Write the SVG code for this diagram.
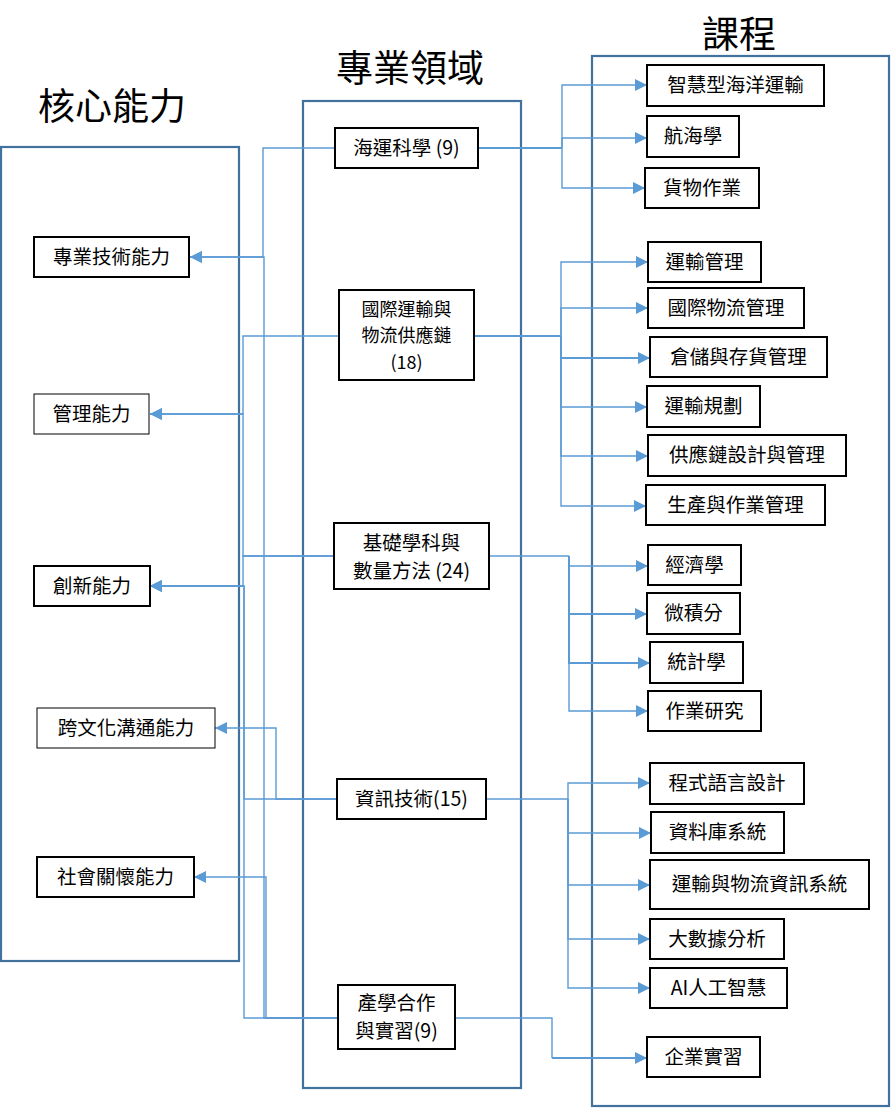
<svg xmlns="http://www.w3.org/2000/svg" width="892" height="1108" viewBox="0 0 892 1108">
<style>
.bg{fill:#ffffff}
.cont{fill:none;stroke:#41719c;stroke-width:2.2}
.title{font-family:"Noto Sans CJK TC","Noto Sans CJK SC",sans-serif;font-size:37px;fill:#000;text-anchor:middle}
.box{fill:#ffffff;stroke:#000;stroke-width:2}
.thin{stroke-width:1}
.t{font-family:"Noto Sans CJK TC","Noto Sans CJK SC",sans-serif;font-size:19.5px;fill:#000;text-anchor:middle}
.s{font-size:18px}
.c{fill:none;stroke:#5b9bd5;stroke-width:1.4}
.cb{fill:none;stroke:#5b9bd5;stroke-width:2}
</style>
<defs>
<marker id="ah" markerUnits="userSpaceOnUse" markerWidth="13" markerHeight="13" refX="12" refY="6" orient="auto">
<path d="M0,0 L12,6 L0,12 z" fill="#5b9bd5"/>
</marker>
</defs>
<rect class="bg" x="0" y="0" width="892" height="1108"/>
<g id="containers">
<rect class="cont" x="1" y="147" width="238" height="814"/>
<rect class="cont" x="303" y="101" width="218" height="987"/>
<rect class="cont" x="592" y="56" width="297" height="1050"/>
<text class="title" x="112" y="120">核心能力</text>
<text class="title" x="410" y="82">專業領域</text>
<text class="title" x="739" y="48">課程</text>
</g>
<g id="connectors">
<path class="c" d="M334,148 H263 V257 H190" marker-end="url(#ah)"/>
<path class="c" d="M338,1018 H264 V257 H190" marker-end="url(#ah)"/>
<path class="c" d="M339,336 H243 V414 H150" marker-end="url(#ah)"/>
<path class="c" d="M334,556 H243 V414 H150" marker-end="url(#ah)"/>
<path class="c" d="M334,556 H243 V586 H150" marker-end="url(#ah)"/>
<path class="c" d="M337,799 H244 V586 H150" marker-end="url(#ah)"/>
<path class="c" d="M338,1018 H244 V586 H150" marker-end="url(#ah)"/>
<path class="c" d="M337,799 H276 V728 H215" marker-end="url(#ah)"/>
<path class="c" d="M338,1018 H266 V877 H194" marker-end="url(#ah)"/>
<path class="cb" d="M478,148 H562"/>
<path class="c" d="M562,148 V85 H647" marker-end="url(#ah)"/>
<path class="c" d="M562,148 V138 H647" marker-end="url(#ah)"/>
<path class="c" d="M562,148 V188 H645" marker-end="url(#ah)"/>
<path class="cb" d="M474,336 H561"/>
<path class="c" d="M561,336 V262 H648" marker-end="url(#ah)"/>
<path class="c" d="M561,336 V308 H648" marker-end="url(#ah)"/>
<path class="cb" d="M561,336 V358 H650" marker-end="url(#ah)"/>
<path class="c" d="M561,336 V407 H647" marker-end="url(#ah)"/>
<path class="c" d="M561,336 V456 H648" marker-end="url(#ah)"/>
<path class="c" d="M561,336 V506 H646" marker-end="url(#ah)"/>
<path class="c" d="M489,556 H569"/>
<path class="c" d="M569,556 V566 H648" marker-end="url(#ah)"/>
<path class="cb" d="M569,556 V614 H647" marker-end="url(#ah)"/>
<path class="cb" d="M569,556 V663 H650" marker-end="url(#ah)"/>
<path class="c" d="M569,556 V711 H648" marker-end="url(#ah)"/>
<path class="c" d="M486,799 H568"/>
<path class="c" d="M568,799 V783 H650" marker-end="url(#ah)"/>
<path class="c" d="M568,799 V833 H651" marker-end="url(#ah)"/>
<path class="c" d="M568,799 V885 H650" marker-end="url(#ah)"/>
<path class="c" d="M568,799 V939 H650" marker-end="url(#ah)"/>
<path class="c" d="M568,799 V988 H650" marker-end="url(#ah)"/>
<path class="c" d="M455,1018 H552 V1058"/>
<path class="cb" d="M552,1058 H647" marker-end="url(#ah)"/>
</g>
<g id="core-1"><rect class="box" x="34" y="237" width="155" height="40"/><text class="t" x="111.5" y="264">專業技術能力</text></g>
<g id="core-2"><rect class="box thin" x="34" y="394" width="115" height="40"/><text class="t" x="91.5" y="421">管理能力</text></g>
<g id="core-3"><rect class="box" x="34" y="566" width="116" height="40"/><text class="t" x="92" y="593">創新能力</text></g>
<g id="core-4"><rect class="box thin" x="37" y="708" width="178" height="40"/><text class="t" x="126" y="735">跨文化溝通能力</text></g>
<g id="core-5"><rect class="box" x="37" y="857" width="157" height="40"/><text class="t" x="115.5" y="884">社會關懷能力</text></g>
<g id="field-1"><rect class="box" x="335" y="128" width="143" height="40"/><text class="t" x="406.5" y="155">海運科學 (9)</text></g>
<g id="field-2"><rect class="box" x="339" y="290" width="135" height="90"/><text class="t s" x="406.5" y="315.5">國際運輸與</text><text class="t s" x="406.5" y="342">物流供應鏈</text><text class="t s" x="406.5" y="368.5">(18)</text></g>
<g id="field-3"><rect class="box" x="334" y="523" width="155" height="66"/><text class="t" x="411.5" y="549.5">基礎學科與</text><text class="t" x="411.5" y="577.5">數量方法 (24)</text></g>
<g id="field-4"><rect class="box" x="337" y="779" width="149" height="40"/><text class="t" x="411.5" y="806">資訊技術(15)</text></g>
<g id="field-5"><rect class="box" x="338" y="985" width="117" height="64"/><text class="t" x="396.5" y="1009.5">產學合作</text><text class="t" x="396.5" y="1037.5">與實習(9)</text></g>
<g id="course-1"><rect class="box" x="647" y="65" width="177" height="41"/><text class="t" x="735.5" y="92">智慧型海洋運輸</text></g>
<g id="course-2"><rect class="box" x="647" y="116" width="92" height="41"/><text class="t" x="693" y="143">航海學</text></g>
<g id="course-3"><rect class="box" x="645" y="168" width="114" height="40"/><text class="t" x="702" y="195">貨物作業</text></g>
<g id="course-4"><rect class="box" x="648" y="242" width="113" height="40"/><text class="t" x="704.5" y="269">運輸管理</text></g>
<g id="course-5"><rect class="box" x="648" y="288" width="156" height="40"/><text class="t" x="726" y="315">國際物流管理</text></g>
<g id="course-6"><rect class="box" x="650" y="337" width="177" height="40"/><text class="t" x="738.5" y="364">倉儲與存貨管理</text></g>
<g id="course-7"><rect class="box" x="647" y="386" width="113" height="41"/><text class="t" x="703.5" y="413">運輸規劃</text></g>
<g id="course-8"><rect class="box" x="648" y="435" width="198" height="41"/><text class="t" x="747" y="462">供應鏈設計與管理</text></g>
<g id="course-9"><rect class="box" x="646" y="485" width="179" height="40"/><text class="t" x="735.5" y="512">生產與作業管理</text></g>
<g id="course-10"><rect class="box" x="648" y="545" width="93" height="40"/><text class="t" x="694.5" y="572">經濟學</text></g>
<g id="course-11"><rect class="box" x="647" y="593" width="93" height="41"/><text class="t" x="693.5" y="620">微積分</text></g>
<g id="course-12"><rect class="box" x="650" y="642" width="93" height="41"/><text class="t" x="696.5" y="669">統計學</text></g>
<g id="course-13"><rect class="box" x="648" y="691" width="113" height="40"/><text class="t" x="704.5" y="718">作業研究</text></g>
<g id="course-14"><rect class="box" x="650" y="763" width="154" height="41"/><text class="t" x="727" y="790">程式語言設計</text></g>
<g id="course-15"><rect class="box" x="651" y="812" width="133" height="41"/><text class="t" x="717.5" y="839">資料庫系統</text></g>
<g id="course-16"><rect class="box" x="650" y="860" width="219" height="49"/><text class="t" x="759.5" y="891">運輸與物流資訊系統</text></g>
<g id="course-17"><rect class="box" x="650" y="919" width="134" height="40"/><text class="t" x="717" y="946">大數據分析</text></g>
<g id="course-18"><rect class="box" x="650" y="968" width="137" height="40"/><text class="t" x="718.5" y="995">AI人工智慧</text></g>
<g id="course-19"><rect class="box" x="647" y="1037" width="113" height="40"/><text class="t" x="703.5" y="1064">企業實習</text></g>
</svg>
